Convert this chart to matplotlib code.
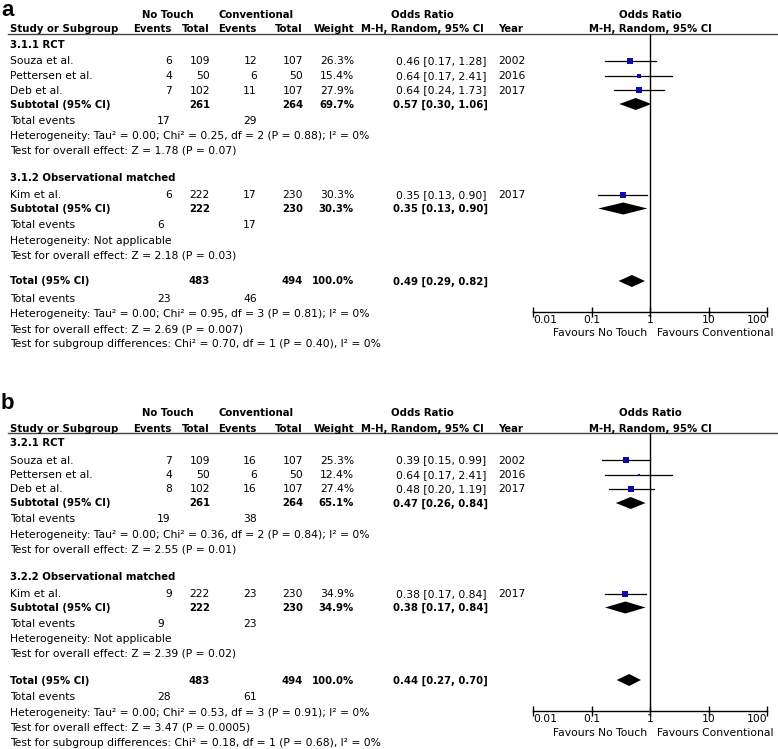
import matplotlib
matplotlib.use("Agg")
import matplotlib.pyplot as plt
from matplotlib.ticker import FixedLocator, NullLocator

W, H = 778, 749
FS = 7.75
FS_BOLD = 7.25

# ---------------- panel a ----------------
a_groups = ["3.1.1 RCT", "3.1.2 Observational matched"]
a_studies = [["Souza et al.", "Pettersen et al.", "Deb et al."], ["Kim et al."]]
a_ev_nt = [[6, 4, 7], [6]]
a_tot_nt = [[109, 50, 102], [222]]
a_ev_cv = [[12, 6, 11], [17]]
a_tot_cv = [[107, 50, 107], [230]]
a_weight = [[26.3, 15.4, 27.9], [30.3]]
a_or = [[0.46, 0.64, 0.64], [0.35]]
a_lo = [[0.17, 0.17, 0.24], [0.13]]
a_hi = [[1.28, 2.41, 1.73], [0.90]]
a_year = [[2002, 2016, 2017], [2017]]
a_sub_n = [(261, 264), (222, 230)]
a_sub_ev = [(17, 29), (6, 17)]
a_sub_w = [69.7, 30.3]
a_sub_or = [0.57, 0.35]
a_sub_lo = [0.30, 0.13]
a_sub_hi = [1.06, 0.90]
a_het = ["Heterogeneity: Tau² = 0.00; Chi² = 0.25, df = 2 (P = 0.88); I² = 0%",
         "Heterogeneity: Not applicable"]
a_test = ["Test for overall effect: Z = 1.78 (P = 0.07)",
          "Test for overall effect: Z = 2.18 (P = 0.03)"]
a_total_n = (483, 494)
a_total_ev = (23, 46)
a_total_or = (0.49, 0.29, 0.82)
a_total_notes = ["Heterogeneity: Tau² = 0.00; Chi² = 0.95, df = 3 (P = 0.81); I² = 0%",
                 "Test for overall effect: Z = 2.69 (P = 0.007)",
                 "Test for subgroup differences: Chi² = 0.70, df = 1 (P = 0.40), I² = 0%"]

# ---------------- panel b ----------------
b_groups = ["3.2.1 RCT", "3.2.2 Observational matched"]
b_studies = [["Souza et al.", "Pettersen et al.", "Deb et al."], ["Kim et al."]]
b_ev_nt = [[7, 4, 8], [9]]
b_tot_nt = [[109, 50, 102], [222]]
b_ev_cv = [[16, 6, 16], [23]]
b_tot_cv = [[107, 50, 107], [230]]
b_weight = [[25.3, 12.4, 27.4], [34.9]]
b_or = [[0.39, 0.64, 0.48], [0.38]]
b_lo = [[0.15, 0.17, 0.20], [0.17]]
b_hi = [[0.99, 2.41, 1.19], [0.84]]
b_year = [[2002, 2016, 2017], [2017]]
b_sub_n = [(261, 264), (222, 230)]
b_sub_ev = [(19, 38), (9, 23)]
b_sub_w = [65.1, 34.9]
b_sub_or = [0.47, 0.38]
b_sub_lo = [0.26, 0.17]
b_sub_hi = [0.84, 0.84]
b_het = ["Heterogeneity: Tau² = 0.00; Chi² = 0.36, df = 2 (P = 0.84); I² = 0%",
         "Heterogeneity: Not applicable"]
b_test = ["Test for overall effect: Z = 2.55 (P = 0.01)",
          "Test for overall effect: Z = 2.39 (P = 0.02)"]
b_total_n = (483, 494)
b_total_ev = (28, 61)
b_total_or = (0.44, 0.27, 0.70)
b_total_notes = ["Heterogeneity: Tau² = 0.00; Chi² = 0.53, df = 3 (P = 0.91); I² = 0%",
                 "Test for overall effect: Z = 3.47 (P = 0.0005)",
                 "Test for subgroup differences: Chi² = 0.18, df = 1 (P = 0.68), I² = 0%"]

# column positions (pixels)
X_NAME, X_EV1, X_TOT1, X_EV2, X_TOT2, X_W = 10, 172, 210, 257, 303, 354
X_TE1, X_TE2 = 157, 243
X_OR, X_YEAR = 396, 498
X_OR_HDR, X_PLOT_HDR = 422, 650
AX_L, AX_R, AX_TOP, AX_BOT = 533, 767, 33.5, 311.5
BASE = 3.5
SQ_COLOR = "#0c0ca8"

fig = plt.figure(figsize=(W / 100, H / 100), dpi=100)
bg = fig.add_axes([0, 0, 1, 1])
bg.set_xlim(0, W)
bg.set_ylim(H, 0)
bg.axis("off")


def txt(x, y, s, ha="left", bold=False):
    bg.text(x, y + BASE, s, ha=ha, va="baseline",
            fontsize=FS_BOLD if bold else FS,
            fontweight="bold" if bold else "normal")


def diamond(fa, est, lo, hi, y, h=6):
    fa.fill([lo, est, hi, est], [y, y - h, y, y + h], color="black", lw=0)


def draw_panel(off, label, groups, studies, ev_nt, tot_nt, ev_cv, tot_cv, weight,
               est, lo, hi, year, sub_n, sub_ev, sub_w, sub_or, sub_lo, sub_hi,
               het, test, total_n, total_ev, total_or, total_notes):
    bg.text(1, max(off - 6, 0.5), label, fontsize=16, fontweight="bold",
            family="Liberation Sans", va="top")

    # headers
    txt(168, 14 + off, "No Touch", ha="center", bold=True)
    txt(256, 14 + off, "Conventional", ha="center", bold=True)
    txt(X_OR_HDR, 14 + off, "Odds Ratio", ha="center", bold=True)
    txt(X_PLOT_HDR, 14 + off, "Odds Ratio", ha="center", bold=True)
    y = 29 + off
    txt(X_NAME, y, "Study or Subgroup", bold=True)
    txt(X_EV1, y, "Events", ha="right", bold=True)
    txt(X_TOT1, y, "Total", ha="right", bold=True)
    txt(X_EV2, y, "Events", ha="right", bold=True)
    txt(X_TOT2, y, "Total", ha="right", bold=True)
    txt(X_W, y, "Weight", ha="right", bold=True)
    txt(X_OR_HDR, y, "M-H, Random, 95% CI", ha="center", bold=True)
    txt(X_YEAR, y, "Year", bold=True)
    txt(X_PLOT_HDR, y, "M-H, Random, 95% CI", ha="center", bold=True)
    bg.plot([8, W], [AX_TOP + off, AX_TOP + off], color="#444444", lw=1)

    # forest axes
    fa = fig.add_axes([AX_L / W, 1 - (AX_BOT + off) / H,
                       (AX_R - AX_L) / W, (AX_BOT - AX_TOP) / H])
    fa.set_xscale("log")
    fa.set_xlim(0.01, 100)
    fa.set_ylim(AX_BOT, AX_TOP)
    fa.patch.set_alpha(0)
    for s in ("top", "left", "right"):
        fa.spines[s].set_visible(False)
    fa.spines["bottom"].set_linewidth(1)
    fa.set_yticks([])
    fa.xaxis.set_major_locator(FixedLocator([0.01, 0.1, 1, 10, 100]))
    fa.xaxis.set_minor_locator(NullLocator())
    fa.set_xticklabels(["0.01", "0.1", "1", "10", "100"])
    fa.tick_params(axis="x", direction="inout", length=7, width=1,
                   labelsize=FS, pad=-1)
    labs = fa.get_xticklabels()
    labs[0].set_ha("left")
    labs[-1].set_ha("right")
    fa.axvline(1, color="black", lw=1)

    y = 44
    for g in range(len(groups)):
        txt(X_NAME, y + off, groups[g], bold=True)
        y += 17
        for i in range(len(studies[g])):
            txt(X_NAME, y + off, studies[g][i])
            txt(X_EV1, y + off, str(ev_nt[g][i]), ha="right")
            txt(X_TOT1, y + off, str(tot_nt[g][i]), ha="right")
            txt(X_EV2, y + off, str(ev_cv[g][i]), ha="right")
            txt(X_TOT2, y + off, str(tot_cv[g][i]), ha="right")
            txt(X_W, y + off, f"{weight[g][i]:.1f}%", ha="right")
            txt(X_OR, y + off, f"{est[g][i]:.2f} [{lo[g][i]:.2f}, {hi[g][i]:.2f}]")
            txt(X_YEAR, y + off, str(year[g][i]))
            fa.plot([lo[g][i], hi[g][i]], [y, y], color="black", lw=0.9)
            fa.plot(est[g][i], y, marker="s", ls="none", color=SQ_COLOR,
                    ms=weight[g][i] * 0.2 * 0.72, mew=0)
            y += 14.5
        y -= 0.5
        txt(X_NAME, y + off, "Subtotal (95% CI)", bold=True)
        txt(X_TOT1, y + off, str(sub_n[g][0]), ha="right", bold=True)
        txt(X_TOT2, y + off, str(sub_n[g][1]), ha="right", bold=True)
        txt(X_W, y + off, f"{sub_w[g]:.1f}%", ha="right", bold=True)
        txt(X_OR - 3, y + off, f"{sub_or[g]:.2f} [{sub_lo[g]:.2f}, {sub_hi[g]:.2f}]", bold=True)
        diamond(fa, sub_or[g], sub_lo[g], sub_hi[g], y)
        y += 16
        txt(X_NAME, y + off, "Total events")
        txt(X_TE1, y + off, str(sub_ev[g][0]))
        txt(X_TE2, y + off, str(sub_ev[g][1]))
        y += 15.5
        txt(X_NAME, y + off, het[g])
        y += 14.5
        txt(X_NAME, y + off, test[g])
        y += 27.5

    y = 281
    txt(X_NAME, y + off, "Total (95% CI)", bold=True)
    txt(X_TOT1, y + off, str(total_n[0]), ha="right", bold=True)
    txt(X_TOT2, y + off, str(total_n[1]), ha="right", bold=True)
    txt(X_W, y + off, "100.0%", ha="right", bold=True)
    txt(X_OR - 3, y + off, f"{total_or[0]:.2f} [{total_or[1]:.2f}, {total_or[2]:.2f}]", bold=True)
    diamond(fa, total_or[0], total_or[1], total_or[2], y)
    y = 298
    txt(X_NAME, y + off, "Total events")
    txt(X_TE1, y + off, str(total_ev[0]))
    txt(X_TE2, y + off, str(total_ev[1]))
    for k, note in enumerate(total_notes):
        txt(X_NAME, 313.5 + 15 * k + off, note)

    txt(647, 333 + off, "Favours No Touch", ha="right")
    txt(657, 333 + off, "Favours Conventional")


draw_panel(0, "a", a_groups, a_studies, a_ev_nt, a_tot_nt, a_ev_cv, a_tot_cv, a_weight,
           a_or, a_lo, a_hi, a_year, a_sub_n, a_sub_ev, a_sub_w, a_sub_or, a_sub_lo, a_sub_hi,
           a_het, a_test, a_total_n, a_total_ev, a_total_or, a_total_notes)
draw_panel(399, "b", b_groups, b_studies, b_ev_nt, b_tot_nt, b_ev_cv, b_tot_cv, b_weight,
           b_or, b_lo, b_hi, b_year, b_sub_n, b_sub_ev, b_sub_w, b_sub_or, b_sub_lo, b_sub_hi,
           b_het, b_test, b_total_n, b_total_ev, b_total_or, b_total_notes)

fig.savefig("out.png", dpi=100)
